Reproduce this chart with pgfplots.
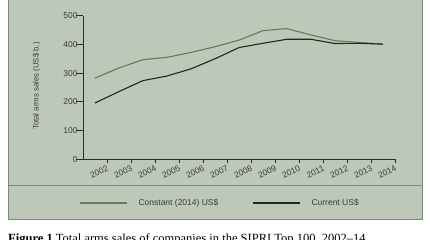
\documentclass[border=0pt]{standalone}
\usepackage{pgfplots}
\pgfplotsset{compat=1.18}
\usepackage{fontspec}
\setmainfont{Liberation Sans}
\newfontfamily\capfont[Ligatures=TeX]{Liberation Serif}
\definecolor{panel}{HTML}{BDC8B8}
\definecolor{panelline}{HTML}{7E8A7B}
\definecolor{constc}{HTML}{5E7F5A}
\definecolor{currc}{HTML}{1E2820}
\definecolor{axc}{HTML}{2A2E2A}
\definecolor{txt}{HTML}{3A3D3A}
\begin{document}
\begin{tikzpicture}
\useasboundingbox (0,0) rectangle (430pt,240pt);
\clip (0,0) rectangle (430pt,240pt);
\fill[panel] (8pt,21pt) rectangle (422pt,245pt);
\draw[panelline, line width=0.8pt] (8pt,245pt) -- (8pt,21pt) -- (422pt,21pt) -- (422pt,245pt);
\draw[panelline, line width=0.8pt] (8pt,55pt) -- (422pt,55pt);
\begin{axis}[
  at={(83pt,80.7pt)}, anchor=south west,
  scale only axis, width=312pt, height=143.6pt,
  xmin=2001, xmax=2014, ymin=0, ymax=500,
  axis x line*=bottom, axis y line*=left,
  axis line style={axc, line width=0.9pt, -},
  x axis line style={shorten <=-7.5pt},
  xtick={2002,...,2014},
  ytick={0,100,...,500},
  xticklabels={2002,2003,2004,2005,2006,2007,2008,2009,2010,2011,2012,2013,2014},
  tick align=outside,
  xtick style={axc, line width=0.9pt, /pgfplots/major tick length=4pt},
  ytick style={axc, line width=0.9pt, /pgfplots/major tick length=7.5pt},
  ticklabel style={font=\fontsize{8.5}{9}\selectfont, text=txt},
  xticklabel style={rotate=25, anchor=north east, inner sep=1pt},
  yticklabel style={inner sep=1pt},
  /pgf/number format/assume math mode=true,
  ylabel={Total arms sales (US\$ b.)},
  ylabel style={font=\fontsize{7.8}{8}\selectfont, text=txt, at={(axis description cs:-0.149,0.51)}, anchor=center, rotate=0},
  legend columns=2,
  legend style={draw=none, fill=none, at={(axis description cs:-0.012,-0.304)}, anchor=west,
    font=\fontsize{8.5}{9}\selectfont, text=txt, inner sep=0pt,
    nodes={inner sep=0pt},
    /tikz/every even column/.append style={column sep=34pt}},
  legend image code/.code={\draw[#1] (0pt,0pt) -- (47pt,0pt); \path (58pt,0pt);},
  legend cell align=left,
]
\addplot[constc, line width=1.1pt] coordinates {
(2001.5,283) (2002.5,318) (2003.5,347) (2004.5,355) (2005.5,372) (2006.5,392) (2007.5,415)
(2008.5,448) (2009.5,455) (2010.5,433) (2011.5,413) (2012.5,407) (2013.5,401)};
\addlegendentry{Constant (2014) US\$}
\addplot[currc, line width=1.1pt] coordinates {
(2001.5,196) (2002.5,236) (2003.5,274) (2004.5,290) (2005.5,315) (2006.5,350) (2007.5,389)
(2008.5,404) (2009.5,418) (2010.5,418) (2011.5,403) (2012.5,404) (2013.5,401)};
\addlegendentry{Current US\$}
\end{axis}
\node[anchor=base west, inner sep=0pt, font=\capfont\fontsize{12.5}{13}\selectfont] at (8pt,-3pt)
  {\textbf{Figure 1} Total arms sales of companies in the SIPRI Top 100, 2002–14};
\end{tikzpicture}
\end{document}
